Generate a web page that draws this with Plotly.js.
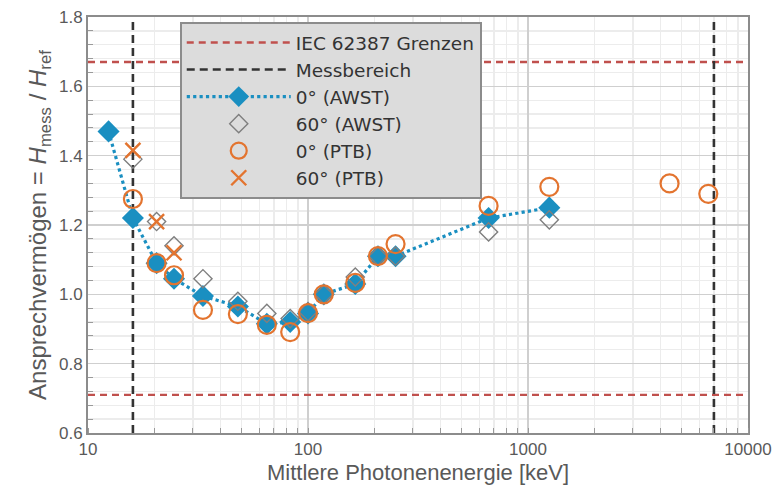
<!DOCTYPE html>
<html><head><meta charset="utf-8">
<script src="https://cdn.plot.ly/plotly-3.0.1.min.js"></script>
<style>html,body{margin:0;padding:0;background:#fff}#chart{width:776px;height:495px}</style>
</head><body><div id="chart"></div>
<script>
// Energies [keV]
const energyAWST = [12.4, 16, 20.5, 24.6, 33.3, 48, 65, 83, 100, 118, 164, 208, 250, 662, 1250];
const awst0 = [1.47, 1.22, 1.09, 1.045, 0.995, 0.965, 0.915, 0.92, 0.945, 1.0, 1.03, 1.11, 1.11, 1.22, 1.25];
const energyAWST60 = [16, 20.5, 24.6, 33.3, 48, 65, 83, 100, 118, 164, 208, 250, 662, 1250];
const awst60 = [1.39, 1.21, 1.14, 1.045, 0.98, 0.945, 0.93, 0.95, 1.0, 1.05, 1.11, 1.11, 1.18, 1.215];
const energyPTB0 = [16, 20.5, 24.6, 33.3, 48, 65, 83, 100, 118, 164, 208, 250, 662, 1250, 4400, 6600];
const ptb0 = [1.275, 1.09, 1.055, 0.955, 0.943, 0.912, 0.891, 0.946, 1.0, 1.033, 1.11, 1.145, 1.255, 1.31, 1.32, 1.29];
const energyPTB60 = [16, 20.5, 24.6];
const ptb60 = [1.415, 1.21, 1.12];
// Reference lines
const iecX = [10, 10000, null, 10, 10000];
const iecY = [1.67, 1.67, null, 0.71, 0.71];
const rangeX = [16, 16, null, 7000, 7000];
const rangeY = [0.6, 1.8, null, 0.6, 1.8];
const xTicks = [10, 100, 1000, 10000];
const xTickText = ['10', '100', '1000', '10000'];

const blue = '#1a8fc1', orange = '#e3742f', grey = '#7f7f7f', txt = '#595959';
const traces = [
  {x: iecX, y: iecY, mode: 'lines', name: 'IEC 62387 Grenzen', line: {color: '#c0504d', width: 2.4, dash: '7px,5px'}},
  {x: rangeX, y: rangeY, mode: 'lines', name: 'Messbereich', line: {color: '#333333', width: 2.6, dash: '8px,5px'}},
  {x: energyAWST, y: awst0, mode: 'lines+markers', name: '0° (AWST)', line: {color: blue, width: 3.2, dash: 'dot'},
   marker: {symbol: 'diamond', size: 17, color: blue}},
  {x: energyAWST60, y: awst60, mode: 'markers', name: '60° (AWST)',
   marker: {symbol: 'diamond-open', size: 14, color: grey, line: {width: 1.4, color: grey}}},
  {x: energyPTB0, y: ptb0, mode: 'markers', name: '0° (PTB)',
   marker: {symbol: 'circle-open', size: 18, color: orange, line: {width: 2.2, color: orange}}},
  {x: energyPTB60, y: ptb60, mode: 'markers', name: '60° (PTB)',
   marker: {symbol: 'x-thin-open', size: 15, color: orange, line: {width: 2.4, color: orange}}}
];
const layout = {
  width: 776, height: 495,
  margin: {l: 88, r: 28, t: 17, b: 62},
  paper_bgcolor: '#ffffff', plot_bgcolor: '#ffffff',
  font: {family: 'Liberation Sans, Arial, sans-serif', color: txt, size: 17},
  showlegend: true,
  legend: {x: 0.139, y: 0.988, xanchor: 'left', yanchor: 'top', bgcolor: '#dcdcdc', bordercolor: '#8c8c8c', borderwidth: 2,
    font: {family: 'DejaVu Sans, sans-serif', size: 18.5, color: '#333333'}, tracegroupgap: 0, itemwidth: 104},
  xaxis: {type: 'log', range: [1, 4], tickvals: xTicks, ticktext: xTickText,
    showgrid: true, gridcolor: '#cfcfcf', gridwidth: 1.3,
    minor: {dtick: 'D1', showgrid: true, gridcolor: '#ececec', ticks: 'inside', ticklen: 5, tickcolor: '#9a9a9a'},
    showline: true, linecolor: '#8c8c8c', linewidth: 2, mirror: true, zeroline: false,
    ticks: '', tickfont: {size: 17, color: txt},
    title: {text: 'Mittlere Photonenenergie [keV]', font: {size: 22, color: txt}, standoff: 6}},
  yaxis: {range: [0.6, 1.8], dtick: 0.2, tickformat: '.1f',
    showgrid: true, gridcolor: '#cfcfcf', gridwidth: 1.3,
    minor: {dtick: 0.04, showgrid: true, gridcolor: '#ececec', ticks: 'inside', ticklen: 5, tickcolor: '#9a9a9a'},
    showline: true, linecolor: '#8c8c8c', linewidth: 2, mirror: true, zeroline: false,
    ticks: '', tickfont: {size: 17, color: txt},
    title: {text: 'Ansprechvermögen = <i>H</i><sub>mess</sub> / <i>H</i><sub>ref</sub>', font: {size: 24, color: txt}, standoff: 6}}
};
Plotly.newPlot('chart', traces, layout, {displayModeBar: false, staticPlot: true});
</script></body></html>
